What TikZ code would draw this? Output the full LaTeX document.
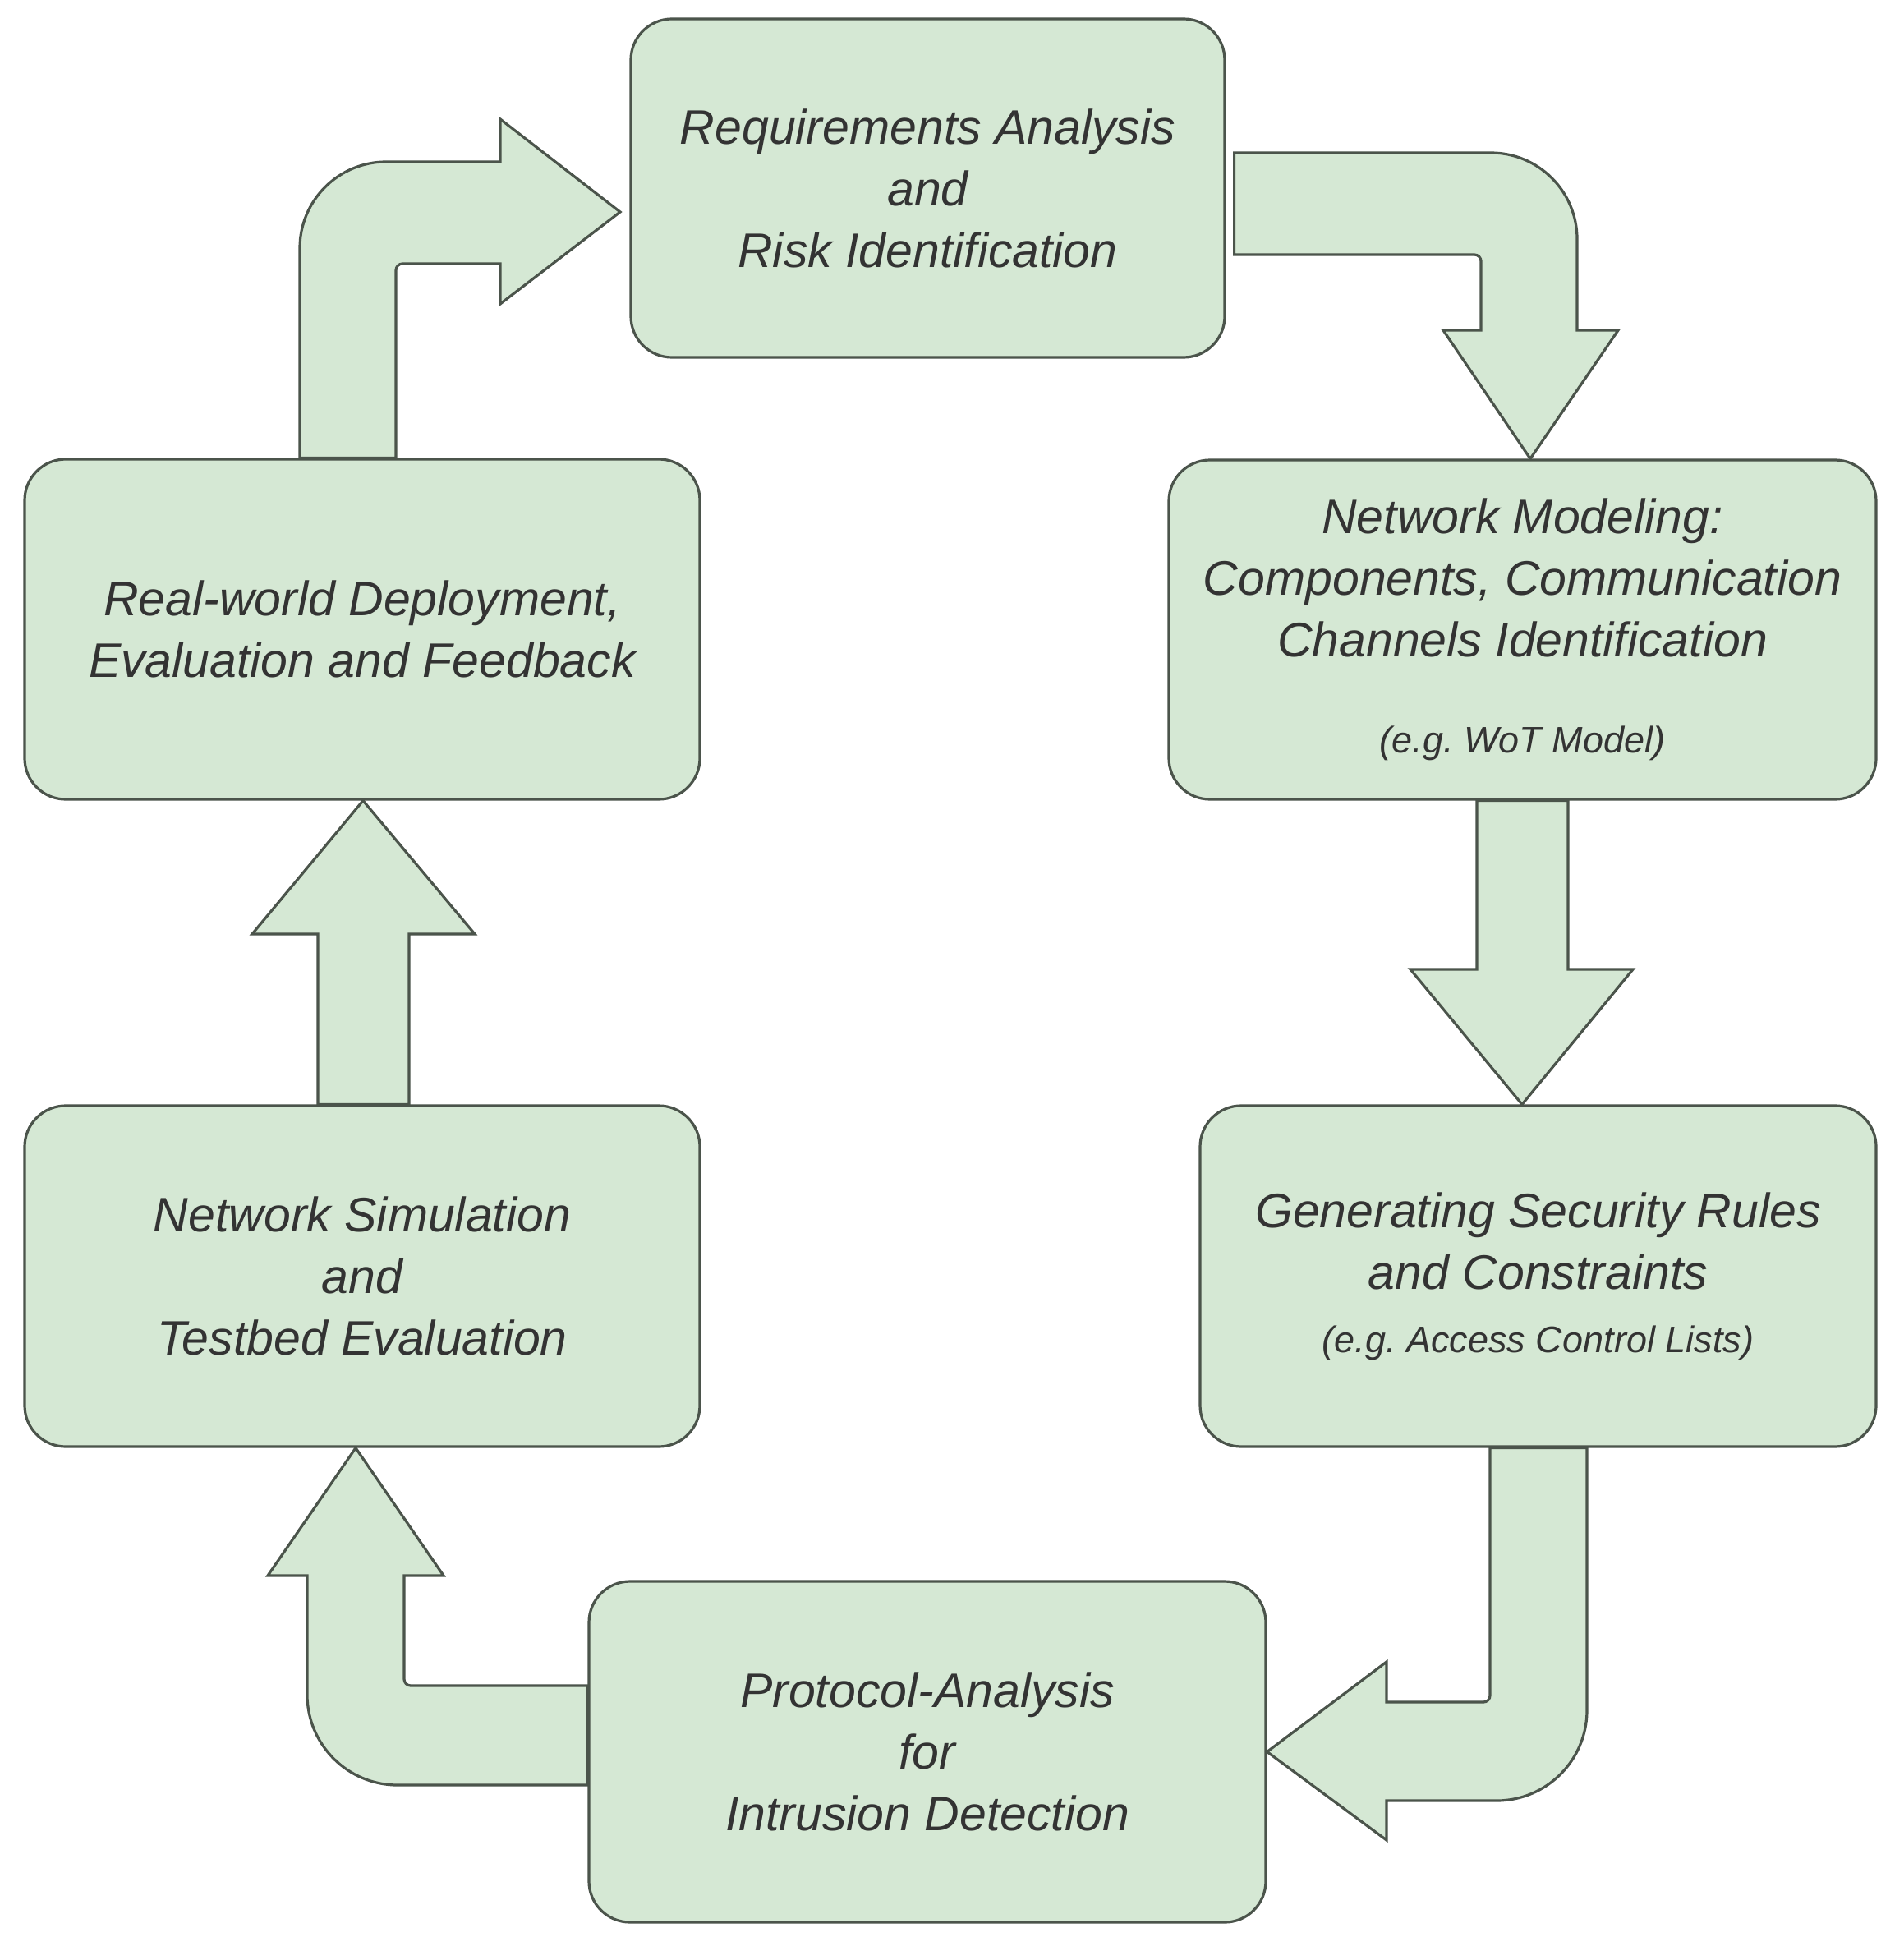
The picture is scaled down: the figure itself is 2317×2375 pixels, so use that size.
\documentclass[tikz,border=0pt]{standalone}
\usepackage{fontspec}
\setmainfont{Liberation Sans}
\usetikzlibrary{calc}
\definecolor{boxfill}{HTML}{D5E8D4}
\definecolor{boxline}{HTML}{4B544B}
\definecolor{txtcol}{HTML}{333333}
\tikzset{
  stagebox/.style={draw=boxline, fill=boxfill, line width=1.6pt, rounded corners=25pt,
    align=center, inner sep=0pt, text=txtcol,
    font=\frenchspacing\itshape\fontsize{29.5}{37.5}\selectfont},
  blockarrow/.style={draw=boxline, fill=boxfill, line width=1.6pt, line join=miter}
}
\newcommand{\smalltxt}{\fontsize{22.5}{27}\selectfont}
\begin{document}
\begin{tikzpicture}[x=0.5pt,y=0.5pt]
\useasboundingbox (0,0) rectangle (2317,-2375);
\fill[white] (0,0) rectangle (2317,-2375);

% boxes with text
\node[stagebox, minimum width=361.5pt, minimum height=206pt] (b1) at (1129.5,-229)
  {Requirements Analysis\\and\\Risk Identification};
\node[stagebox, minimum width=430.5pt, minimum height=206.5pt] (b2) at (1853.5,-766.5)
  {Network Modeling:\\Components, Communication\\Channels Identification\\[21pt]{\smalltxt(e.g. WoT Model)}};
\node[stagebox, minimum width=411.5pt, minimum height=207.5pt] (b3) at (1872.5,-1553.5)
  {Generating Security Rules\\and Constraints\\[1pt]{\smalltxt(e.g. Access Control Lists)}};
\node[stagebox, minimum width=412pt, minimum height=207.5pt] (b4) at (1129,-2132.5)
  {Protocol-Analysis\\for\\Intrusion Detection};
\node[stagebox, minimum width=411pt, minimum height=207.5pt] (b5) at (441,-1553.5)
  {Network Simulation\\and\\Testbed Evaluation};
\node[stagebox, minimum width=411pt, minimum height=207pt] (b6) at (441,-766)
  {Real-world Deployment,\\Evaluation and Feedback};

% A1: b6 -> b1
\draw[blockarrow] (b6.north -| 365,0) -- (365,-302)
  arc[start angle=180,end angle=90,radius=105] -- (609,-197) -- (609,-145)
  -- (755,-258) -- (609,-370) -- (609,-321) -- (490,-321)
  arc[start angle=90,end angle=180,radius=8] -- (b6.north -| 482,0) -- cycle;

% A2: b1 -> b2
\draw[blockarrow] ($(b1.east |- 0,-186)+(10,0)$) -- (1815,-186)
  arc[start angle=90,end angle=0,radius=105] -- (1920,-402) -- (1970,-402)
  -- (b2.north -| 1863,0) -- (1757,-402) -- (1803,-402) -- (1803,-318)
  arc[start angle=0,end angle=90,radius=8] -- ($(b1.east |- 0,-310)+(10,0)$) -- cycle;

% A3: b2 -> b3
\draw[blockarrow] (b2.south -| 1798,0) -- (1798,-1180) -- (1717,-1180)
  -- (b3.north -| 1853,0) -- (1988,-1180) -- (1909,-1180) -- (b2.south -| 1909,0) -- cycle;

% A4: b3 -> b4
\draw[blockarrow] (b3.south -| 1814,0) -- (1814,-2064)
  arc[start angle=0,end angle=-90,radius=8] -- (1688,-2072) -- (1688,-2023)
  -- (b4.east) -- (1688,-2240) -- (1688,-2192) -- (1822,-2192)
  arc[start angle=-90,end angle=0,radius=110] -- (b3.south -| 1932,0) -- cycle;

% A5: b4 -> b5
\draw[blockarrow] (b4.west |- 0,-2052) -- (500,-2052)
  arc[start angle=-90,end angle=-180,radius=8] -- (492,-1918) -- (540,-1918)
  -- (b5.south -| 433,0) -- (326,-1918) -- (374,-1918) -- (374,-2063)
  arc[start angle=180,end angle=270,radius=110] -- (b4.west |- 0,-2173) -- cycle;

% A6: b5 -> b6
\draw[blockarrow] (b5.north -| 387,0) -- (387,-1137) -- (307,-1137)
  -- (b6.south -| 442,0) -- (578,-1137) -- (498,-1137) -- (b5.north -| 498,0) -- cycle;
\end{tikzpicture}
\end{document}
